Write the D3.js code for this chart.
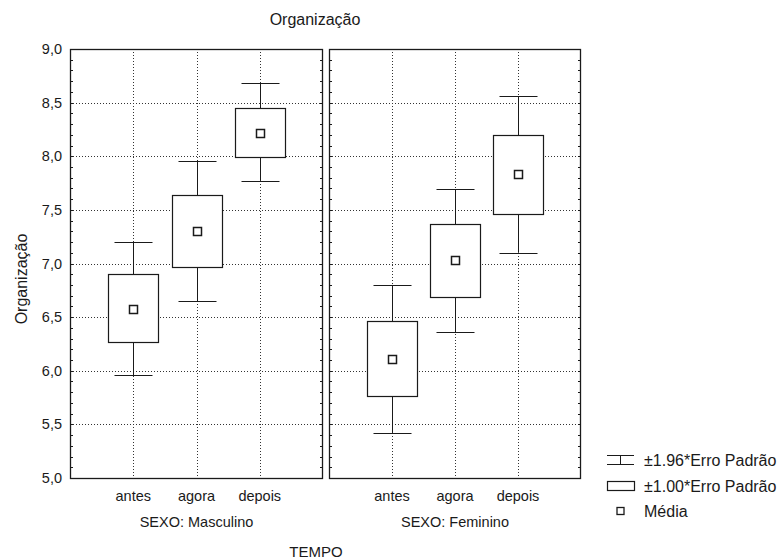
<!DOCTYPE html>
<html>
<head>
<meta charset="utf-8">
<script src="https://cdn.jsdelivr.net/npm/d3@7/dist/d3.min.js"></script>
<style>
  html, body { margin: 0; padding: 0; background: #fff; }
  svg { display: block; font-family: "Liberation Sans", Arial, sans-serif; }
</style>
</head>
<body>
<svg id="chart" width="781" height="560"></svg>
<script>
// ---- data ----
const categories = ["antes", "agora", "depois"];
const panels = ["SEXO: Masculino", "SEXO: Feminino"];
const yTicks = [5.0, 5.5, 6.0, 6.5, 7.0, 7.5, 8.0, 8.5, 9.0];
// Masculino
const mascMean = [6.58, 7.30, 8.22];
const mascBoxLow = [6.27, 6.97, 7.99];
const mascBoxHigh = [6.90, 7.64, 8.45];
const mascWhiskLow = [5.96, 6.65, 7.77];
const mascWhiskHigh = [7.20, 7.96, 8.68];
// Feminino
const femMean = [6.11, 7.03, 7.83];
const femBoxLow = [5.76, 6.69, 7.46];
const femBoxHigh = [6.46, 7.37, 8.20];
const femWhiskLow = [5.42, 6.36, 7.10];
const femWhiskHigh = [6.80, 7.69, 8.56];
const legendLabels = ["±1.96*Erro Padrão", "±1.00*Erro Padrão", "Média"];
const titleText = "Organização";
const yLabel = "Organização";
const xLabel = "TEMPO";

// ---- layout ----
const svg = d3.select("#chart");
const plotTop = 49, plotBottom = 478;
const panelX = [[70, 323], [329, 581]];
const y = d3.scaleLinear().domain([5, 9]).range([plotBottom, plotTop]);
const ink = "#1a1a1a";
const fsSmall = 14.5;
const fsBig = 16;

const panelData = [
  { mean: mascMean, bl: mascBoxLow, bh: mascBoxHigh, wl: mascWhiskLow, wh: mascWhiskHigh },
  { mean: femMean, bl: femBoxLow, bh: femBoxHigh, wl: femWhiskLow, wh: femWhiskHigh }
];

const minor = d3.range(50, 91).map(d => d / 10);

panelData.forEach((pd, pi) => {
  const [x0, x1] = panelX[pi];
  const x = d3.scalePoint().domain(categories).range([x0, x1]).padding(1);
  const g = svg.append("g");

  // grid
  g.selectAll("line.hgrid").data(yTicks.filter(v => v > 5 && v < 9)).join("line")
    .attr("x1", x0).attr("x2", x1)
    .attr("y1", d => Math.round(y(d)) + 0.5).attr("y2", d => Math.round(y(d)) + 0.5)
    .attr("stroke", "#333").attr("stroke-width", 1).attr("stroke-dasharray", "1,2");
  g.selectAll("line.vgrid").data(categories).join("line")
    .attr("x1", d => Math.round(x(d)) + 0.5).attr("x2", d => Math.round(x(d)) + 0.5)
    .attr("y1", plotTop).attr("y2", plotBottom)
    .attr("stroke", "#333").attr("stroke-width", 1).attr("stroke-dasharray", "1,2");

  // minor ticks on left and right edges
  g.selectAll("line.tl").data(minor).join("line")
    .attr("x1", x0).attr("x2", x0 + 3)
    .attr("y1", d => Math.round(y(d)) + 0.5).attr("y2", d => Math.round(y(d)) + 0.5)
    .attr("stroke", ink).attr("stroke-width", 1);
  g.selectAll("line.tr").data(minor).join("line")
    .attr("x1", x1 - 3).attr("x2", x1)
    .attr("y1", d => Math.round(y(d)) + 0.5).attr("y2", d => Math.round(y(d)) + 0.5)
    .attr("stroke", ink).attr("stroke-width", 1);

  // frame
  g.append("rect").attr("x", x0 + 0.5).attr("y", plotTop + 0.5)
    .attr("width", x1 - x0 - 1).attr("height", plotBottom - plotTop)
    .attr("fill", "none").attr("stroke", ink).attr("stroke-width", 1.3);

  // whiskers, boxes, means
  const capW = 38, boxW = 50, mk = 8;
  categories.forEach((c, i) => {
    const cx = Math.round(x(c)) + 0.5;
    g.append("line").attr("x1", cx).attr("x2", cx)
      .attr("y1", y(pd.wl[i])).attr("y2", y(pd.wh[i]))
      .attr("stroke", ink).attr("stroke-width", 1);
    [pd.wl[i], pd.wh[i]].forEach(v => {
      g.append("line").attr("x1", cx - capW / 2).attr("x2", cx + capW / 2)
        .attr("y1", Math.round(y(v)) + 0.5).attr("y2", Math.round(y(v)) + 0.5)
        .attr("stroke", ink).attr("stroke-width", 1.2);
    });
    g.append("rect")
      .attr("x", cx - boxW / 2).attr("y", Math.round(y(pd.bh[i])) + 0.5)
      .attr("width", boxW).attr("height", Math.round(y(pd.bl[i])) - Math.round(y(pd.bh[i])))
      .attr("fill", "#fff").attr("stroke", ink).attr("stroke-width", 1.2);
    g.append("rect")
      .attr("x", cx - mk / 2).attr("y", Math.round(y(pd.mean[i])) - mk / 2 + 0.5)
      .attr("width", mk).attr("height", mk)
      .attr("fill", "#fff").attr("stroke", ink).attr("stroke-width", 1.5);
  });

  // category labels
  g.selectAll("text.cat").data(categories).join("text")
    .attr("x", d => x(d)).attr("y", 501)
    .attr("text-anchor", "middle").attr("font-size", fsSmall).attr("fill", ink)
    .text(d => d);
  g.append("text").attr("x", (x0 + x1) / 2).attr("y", 527)
    .attr("text-anchor", "middle").attr("font-size", fsSmall).attr("fill", ink)
    .text(panels[pi]);
});

// y axis labels
svg.selectAll("text.ytick").data(yTicks).join("text")
  .attr("x", 62).attr("y", d => y(d) + 5)
  .attr("text-anchor", "end").attr("font-size", fsSmall).attr("fill", ink)
  .text(d => d3.format(".1f")(d).replace(".", ","));

// titles
svg.append("text").attr("x", 315).attr("y", 25).attr("text-anchor", "middle")
  .attr("font-size", fsBig).attr("fill", ink).text(titleText);
svg.append("text").attr("x", 316).attr("y", 557).attr("text-anchor", "middle")
  .attr("font-size", 15).attr("fill", ink).text(xLabel);
svg.append("text").attr("transform", "translate(27,279) rotate(-90)")
  .attr("text-anchor", "middle").attr("font-size", fsBig).attr("fill", ink).text(yLabel);

// legend
const lg = svg.append("g");
const lx0 = 607, lx1 = 634, lcx = 620.5;
const rowY = [460, 486, 511];
lg.append("line").attr("x1", lx0).attr("x2", lx1).attr("y1", rowY[0] - 4.5).attr("y2", rowY[0] - 4.5).attr("stroke", ink);
lg.append("line").attr("x1", lx0).attr("x2", lx1).attr("y1", rowY[0] + 4.5).attr("y2", rowY[0] + 4.5).attr("stroke", ink);
lg.append("line").attr("x1", lcx).attr("x2", lcx).attr("y1", rowY[0] - 4.5).attr("y2", rowY[0] + 4.5).attr("stroke", ink);
lg.append("rect").attr("x", lx0 + 0.5).attr("y", rowY[1] - 4.5).attr("width", lx1 - lx0).attr("height", 9)
  .attr("fill", "#fff").attr("stroke", ink).attr("stroke-width", 1.2);
lg.append("rect").attr("x", lcx - 3.5).attr("y", rowY[2] - 3.5).attr("width", 7).attr("height", 7)
  .attr("fill", "#fff").attr("stroke", ink).attr("stroke-width", 1.3);
lg.selectAll("text").data(legendLabels).join("text")
  .attr("x", 644).attr("y", (d, i) => rowY[i] + 5.5)
  .attr("font-size", fsBig).attr("fill", ink).text(d => d);
</script>
</body>
</html>
